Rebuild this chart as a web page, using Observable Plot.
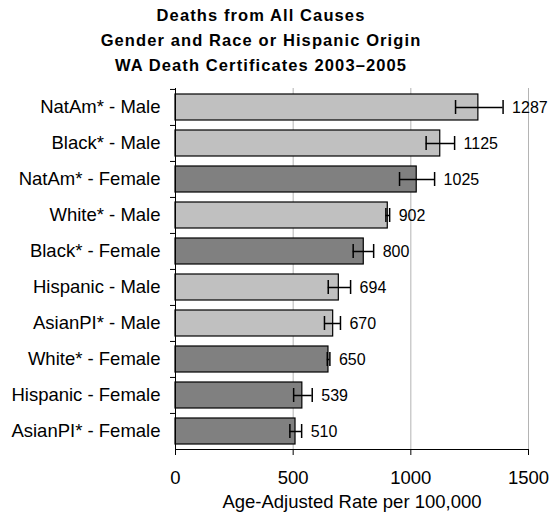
<!DOCTYPE html>
<html>
<head>
<meta charset="utf-8">
<script src="https://cdn.jsdelivr.net/npm/d3@7"></script>
<script src="https://cdn.jsdelivr.net/npm/@observablehq/plot@0.6"></script>
<style>
  html, body { margin: 0; padding: 0; background: #fff; }
  #title {
    width: 522px; padding: 3px 28px 0 0; margin: 0;
    font-family: "Liberation Sans", Arial, sans-serif; font-weight: bold;
    font-size: 16.5px; letter-spacing: 1.1px; line-height: 25px;
    text-align: center; color: #000; height: 75px;
  }
  svg { display: block; }
</style>
</head>
<body>
<div id="title">Deaths from All Causes<br>Gender and Race or Hispanic Origin<br>WA Death Certificates 2003–2005</div>
<div id="chart"></div>
<script>
const categories = ["NatAm* - Male", "Black* - Male", "NatAm* - Female", "White* - Male", "Black* - Female",
  "Hispanic - Male", "AsianPI* - Male", "White* - Female", "Hispanic - Female", "AsianPI* - Female"];
const genders = ["Male", "Male", "Female", "Male", "Female", "Male", "Male", "Female", "Female", "Female"];
const values = [1287, 1125, 1025, 902, 800, 694, 670, 650, 539, 510];
const lower = [1190, 1065, 952, 894, 755, 649, 633, 645, 502, 486];
const upper = [1392, 1186, 1101, 910, 842, 744, 701, 656, 581, 536];
const xTicks = [0, 500, 1000, 1500];
const xLabel = "Age-Adjusted Rate per 100,000";

const data = categories.map((c, i) => ({label: c, gender: genders[i], value: values[i], lo: lower[i], hi: upper[i]}));

const chart = Plot.plot({
  width: 550, height: 436,
  marginTop: 10, marginBottom: 65, marginLeft: 175, marginRight: 22,
  style: {fontFamily: "'Liberation Sans', Arial, sans-serif", fontSize: "18.5px", color: "#000", background: "#fff"},
  x: {domain: [0, 1500]},
  y: {domain: categories, paddingInner: 0.28, paddingOuter: 0.14},
  color: {domain: ["Male", "Female"], range: ["#c0c0c0", "#808080"]},
  marks: [
    Plot.gridX({ticks: xTicks.slice(1), stroke: "#b4b4b4", strokeOpacity: 1}),
    Plot.barX(data, {x: "value", y: "label", fill: "gender", stroke: "#000", strokeWidth: 1.2}),
    Plot.ruleY(data, {x1: "lo", x2: "hi", y: "label", stroke: "#000", strokeWidth: 1.5}),
    Plot.tickX(data, {x: "lo", y: "label", insetTop: 6, insetBottom: 6, stroke: "#000", strokeWidth: 1.5}),
    Plot.tickX(data, {x: "hi", y: "label", insetTop: 6, insetBottom: 6, stroke: "#000", strokeWidth: 1.5}),
    Plot.text(data, {x: "hi", y: "label", text: d => String(d.value), dx: 9, textAnchor: "start", fontSize: 16, fill: "#000"}),
    Plot.ruleX([0], {stroke: "#000"}),
    Plot.frame({anchor: "bottom", stroke: "#000"}),
    Plot.axisX({ticks: xTicks, tickFormat: d => String(d), tickSize: 6, tickPadding: 15, label: xLabel, labelAnchor: "center", labelOffset: 58, labelArrow: "none"}),
    Plot.axisY({tickSize: 0, tickPadding: 15, label: null}),
    Plot.axisY({tickSize: 5, tickFormat: () => "", dy: -18.05, label: null})
  ]
});
document.getElementById("chart").appendChild(chart);
</script>
</body>
</html>
